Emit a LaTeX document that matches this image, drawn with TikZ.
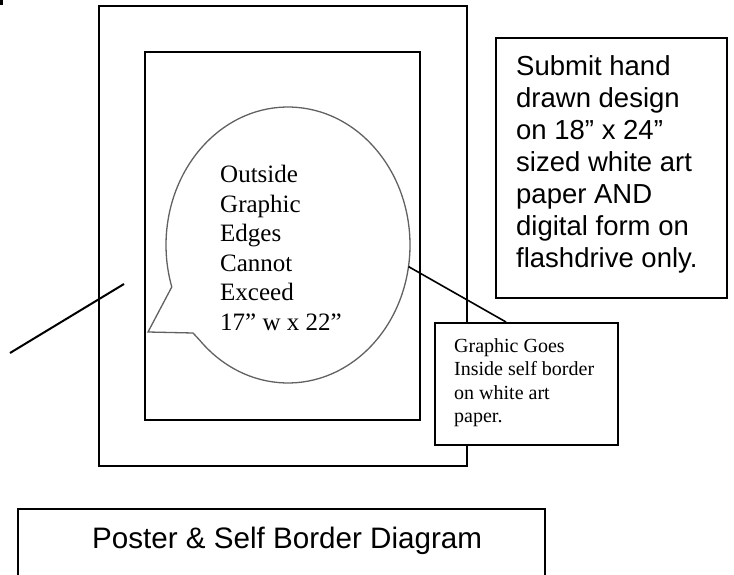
\documentclass[tikz,border=0pt]{standalone}
\usepackage{fontspec}
\setmainfont{Liberation Serif}
\newfontfamily\arialfont{Liberation Sans}
\usetikzlibrary{calc}
\begin{document}
\begin{tikzpicture}[x=1pt,y=-1pt,
  boxline/.style={draw=black, line width=2pt, inner sep=0pt, fill=white},
  bubbleline/.style={draw=black!62, line width=1.3pt},
  conn/.style={draw=black, line width=1.6pt},
  bubbletext/.style={font=\fontsize{25}{29.5}\selectfont, align=left, inner sep=0pt, anchor=north west},
  calltext/.style={font=\fontsize{20}{23.5}\selectfont, align=left, inner sep=0pt, anchor=north west},
  submittext/.style={font=\arialfont\fontsize{27.5}{32}\selectfont, align=left, inner sep=0pt, anchor=north west},
  titletext/.style={font=\arialfont\fontsize{29.6}{34}\selectfont, inner sep=0pt, anchor=base west}]
\useasboundingbox (0,0) rectangle (734,575);
\fill[white] (0,0) rectangle (734,575);
% stray mark
\fill[black] (0,0) rectangle (3,5);
% outer poster and inner self border
\node[boxline, minimum width=368pt, minimum height=460pt] (outer) at (283,236) {};
\node[boxline, minimum width=275pt, minimum height=368pt] (inner) at (282.5,236) {};
% speech bubble
\coordinate (bc) at (288,245);
\draw[bubbleline] ($(bc)+(136.5:122 and 138)$) arc[start angle=136.5, end angle=-197.7, x radius=122, y radius=138]
  -- (148,332) -- (193,333) -- cycle;
\node[bubbletext] (btext) at (220,165) {Outside\\Graphic\\Edges\\Cannot\\Exceed\\17” w x 22”};
% callout box
\node[boxline, minimum width=183pt, minimum height=122pt] (callout) at (526.5,384) {};
\node[calltext] (ctext) at (454,338.3) {Graphic Goes\\Inside self border\\on white art\\paper.};
\coordinate (bp) at ($(bc)+(9:122 and 138)$);
\coordinate (ct) at ($(callout.north west)+(72,0)$);
\draw[conn] (bp) -- (ct);
% submit box
\node[boxline, minimum width=231pt, minimum height=260pt] (submit) at (611.5,168) {};
\node[submittext] (stext) at (516,55.3) {Submit hand\\drawn design\\on 18” x 24”\\sized white art\\paper AND\\digital form on\\flashdrive only.};
% title box
\node[boxline, minimum width=527pt, minimum height=81pt] (title) at (281.5,549.5) {};
\node[titletext] (ttext) at (92,548) {Poster \& Self Border Diagram};
% left line
\coordinate (la) at (10,353);
\coordinate (lb) at (124,284);
\draw[conn, line width=2pt] (la) -- (lb);
\end{tikzpicture}
\end{document}
